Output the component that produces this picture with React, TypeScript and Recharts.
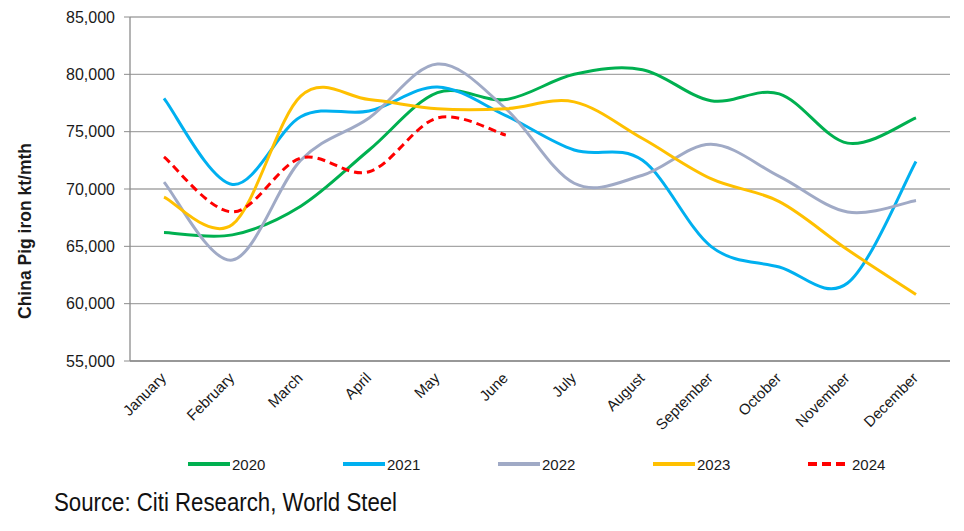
import React from "react";
import { LineChart, Line, XAxis, YAxis, CartesianGrid, Label } from "recharts";

const months = ["January", "February", "March", "April", "May", "June", "July", "August", "September", "October", "November", "December"];
const y2020 = [66200, 66000, 68500, 73400, 78400, 77800, 80000, 80400, 77700, 78300, 74000, 76200];
const y2021 = [77900, 70400, 76300, 76800, 78900, 76400, 73400, 72500, 65000, 63200, 61800, 72400];
const y2022 = [70600, 63800, 72500, 76200, 80900, 77000, 70500, 71200, 73900, 71100, 68000, 69000];
const y2023 = [69300, 66900, 78100, 77800, 77000, 77000, 77600, 74400, 70900, 68900, 64700, 60800];
const y2024 = [72800, 68000, 72700, 71500, 76200, 74700];
const yTicks = [55000, 60000, 65000, 70000, 75000, 80000, 85000];
const boundaryTicks = [0, 1, 2, 3, 4, 5, 6, 7, 8, 9, 10, 11, 12];

const series = [
  { key: "2020", color: "#00b050", dash: undefined as string | undefined },
  { key: "2021", color: "#00b0f0", dash: undefined },
  { key: "2022", color: "#a0aac6", dash: undefined },
  { key: "2023", color: "#ffc000", dash: undefined },
  { key: "2024", color: "#ff0000", dash: "8 5" },
];

const data = months.map((m, i) => ({
  month: m,
  "2020": y2020[i],
  "2021": y2021[i],
  "2022": y2022[i],
  "2023": y2023[i],
  "2024": i < y2024.length ? y2024[i] : null,
}));

const font = "'Liberation Sans', Arial, sans-serif";

// Excel-like smoothed line (uniform Catmull-Rom as cubic Bezier)
const smoothCurve: any = (context: any) => {
  let pts: number[][] = [];
  return {
    areaStart() {},
    areaEnd() {},
    lineStart() {
      pts = [];
    },
    lineEnd() {
      const n = pts.length;
      if (n === 0) return;
      context.moveTo(pts[0][0], pts[0][1]);
      if (n === 1) return;
      for (let i = 0; i < n - 1; i++) {
        const p0 = pts[i - 1] || pts[i];
        const p1 = pts[i];
        const p2 = pts[i + 1];
        const p3 = pts[i + 2] || pts[i + 1];
        context.bezierCurveTo(
          p1[0] + (p2[0] - p0[0]) / 6,
          p1[1] + (p2[1] - p0[1]) / 6,
          p2[0] - (p3[0] - p1[0]) / 6,
          p2[1] - (p3[1] - p1[1]) / 6,
          p2[0],
          p2[1]
        );
      }
    },
    point(x: number, y: number) {
      pts.push([+x, +y]);
    },
  };
};

const XTick = (props: any) => {
  const { x, y, payload } = props;
  const ax = x + 3;
  const ay = y + 10;
  return (
    <text
      x={ax}
      y={ay}
      transform={`rotate(-45 ${ax} ${ay})`}
      textAnchor="end"
      fontFamily={font}
      fontSize={15}
      fill="#1a1a1a"
    >
      {payload.value}
    </text>
  );
};

export default function App() {
  return (
    <div style={{ position: "absolute", left: 0, top: 0, width: 964, height: 531, background: "#fff", overflow: "hidden" }}>
      <LineChart width={964} height={531} data={data} margin={{ top: 17, right: 14, left: 0, bottom: 85 }}>
        <CartesianGrid vertical={false} stroke="#a6a6a6" strokeWidth={1.3} />
        <XAxis
          xAxisId="marks"
          type="number"
          domain={[0, 12]}
          ticks={boundaryTicks}
          allowDataOverflow
          height={0}
          tick={false}
          tickLine={{ stroke: "#8c8c8c" }}
          tickSize={6}
          axisLine={false}
        />
        <XAxis
          dataKey="month"
          height={85}
          interval={0}
          padding={{ left: 34, right: 34 }}
          tick={<XTick />}
          tickLine={false}
          axisLine={{ stroke: "#8c8c8c", strokeWidth: 1.3 }}
        />
        <YAxis
          width={130}
          domain={[55000, 85000]}
          ticks={yTicks}
          tickFormatter={(v: number) => v.toLocaleString("en-US")}
          tick={{ fontFamily: font, fontSize: 16, fill: "#1a1a1a" }}
          tickLine={{ stroke: "#8c8c8c" }}
          tickSize={6}
          tickMargin={9}
          axisLine={{ stroke: "#8c8c8c", strokeWidth: 1.3 }}
          allowDataOverflow
        >
          <Label
            content={() => (
              <text
                x={25}
                y={231}
                transform="rotate(-90 25 231)"
                textAnchor="middle"
                dominantBaseline="central"
                fontFamily={font}
                fontWeight="bold"
                fontSize={17.5}
                fill="#1a1a1a"
              >
                China Pig iron kt/mth
              </text>
            )}
          />
        </YAxis>
        {series.map((s) => (
          <Line
            key={s.key}
            dataKey={s.key}
            type={smoothCurve}
            stroke={s.color}
            strokeWidth={3}
            strokeDasharray={s.dash}
            dot={false}
            activeDot={false}
            connectNulls={false}
            isAnimationActive={false}
          />
        ))}
      </LineChart>
      {series.map((s, i) => (
        <div
          key={s.key}
          style={{
            position: "absolute",
            left: 188 + i * 155,
            top: 454,
            display: "flex",
            alignItems: "center",
            height: 20,
          }}
        >
          <svg width={44} height={6}>
            <line x1={0} y1={3} x2={42} y2={3} stroke={s.color} strokeWidth={4} strokeDasharray={s.dash ? "9 5" : undefined} />
          </svg>
          <span style={{ fontFamily: font, fontSize: 15, color: "#1a1a1a" }}>{s.key}</span>
        </div>
      ))}
      <div
        style={{
          position: "absolute",
          left: 54,
          top: 487,
          fontFamily: font,
          fontSize: 26,
          color: "#111",
          whiteSpace: "nowrap",
          transform: "scaleX(0.855)",
          transformOrigin: "left center",
        }}
      >
        Source: Citi Research, World Steel
      </div>
    </div>
  );
}
